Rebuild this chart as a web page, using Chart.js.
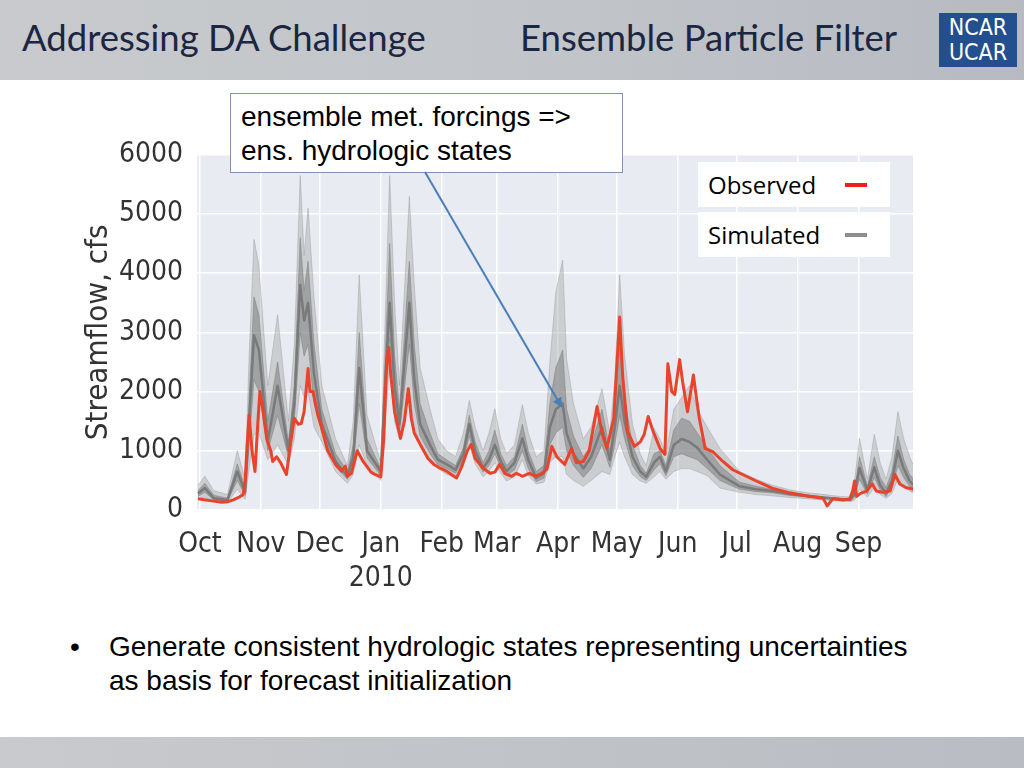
<!DOCTYPE html>
<html>
<head>
<meta charset="utf-8">
<script src="https://cdn.jsdelivr.net/npm/chart.js@4.4.1/dist/chart.umd.min.js"></script>
<style>
  body { margin: 0; background: #fff; }
  #slide { position: relative; width: 1024px; height: 768px; overflow: hidden; background: #fff; }
  #header { position: absolute; left: 0; top: 0; width: 1024px; height: 80px;
            background: linear-gradient(90deg, #c8cacd 0%, #c2c5c9 50%, #b7bac1 100%); }
  .htitle { position: absolute; top: 15px; font-family: Lato, "Open Sans", sans-serif; font-size: 36.5px; color: #1b2642; white-space: nowrap; }
  #logo { position: absolute; left: 939px; top: 13px; width: 78px; height: 54px; background: #234f8e;
          color: #fff; font-family: "DejaVu Sans Condensed", sans-serif; font-size: 23px; line-height: 25px; text-align: center; padding-top: 2px; box-sizing: border-box; }
  #footer { position: absolute; left: 0; top: 737px; width: 1024px; height: 31px; background: linear-gradient(90deg, #c8cacd, #b9bcc2); }
  #chartBox { position: absolute; left: 80px; top: 124px; width: 850px; height: 476px; }
  #note { position: absolute; left: 230px; top: 93px; width: 393px; height: 80px; box-sizing: border-box; background: #fff;
          border: 1.5px solid #7f93b3; font-family: "Liberation Sans", Arial, sans-serif; font-size: 28px; line-height: 34px;
          padding: 6px 0 0 10px; color: #000; z-index: 3; }
  .leg { position: absolute; left: 698px; width: 192px; height: 45px; background: #fff; z-index: 3;
         font-family: "Open Sans", sans-serif; font-size: 24px; line-height: 45px; color: #000; }
  .leg span { position: absolute; left: 10px; }
  .leg i { position: absolute; left: 147px; top: 21px; width: 22px; height: 4px; }
  #arrow { position: absolute; left: 0; top: 0; z-index: 4; }
  .bl { position: absolute; font-family: "Liberation Sans", Arial, sans-serif; font-size: 28px; line-height: 34px; color: #000; white-space: nowrap; }
</style>
</head>
<body>
<div id="slide">
  <div id="header">
    <div class="htitle" style="left:22px">Addressing DA Challenge</div>
    <div class="htitle" style="left:520px">Ensemble Particle Filter</div>
    <div id="logo">NCAR<br>UCAR</div>
  </div>

  <div id="chartBox"><canvas id="flowChart" width="850" height="476"></canvas></div>

  <div id="note">ensemble met. forcings =&gt;<br>ens. hydrologic states</div>
  <div class="leg" style="top:162px"><span>Observed</span><i style="background:#f01e1e"></i></div>
  <div class="leg" style="top:212px"><span>Simulated</span><i style="background:#8e8e8e"></i></div>

  <svg id="arrow" width="1024" height="768">
    <defs>
      <marker id="head" markerWidth="10" markerHeight="10" refX="8" refY="5" orient="auto" markerUnits="userSpaceOnUse">
        <path d="M0,0 L10,5 L0,10 z" fill="#4a7ebb"/>
      </marker>
    </defs>
    <line x1="425" y1="172" x2="561" y2="406" stroke="#4a7ebb" stroke-width="2" marker-end="url(#head)"/>
  </svg>

  <div class="bl" style="left:70px; top:630px">•</div>
  <div class="bl" style="left:109px; top:630px">Generate consistent hydrologic states representing uncertainties<br>as basis for forecast initialization</div>

  <div id="footer"></div>
</div>

<script>
// water year 2010, x = days since 1 Oct 2009
var monthDays = [0, 31, 61, 92, 123, 151, 182, 212, 243, 273, 304, 335];
var monthLabels = ['Oct', 'Nov', 'Dec', ['Jan', '2010'], 'Feb', 'Mar', 'Apr', 'May', 'Jun', 'Jul', 'Aug', 'Sep'];

// observed streamflow (cfs)
var obsDays = [-1, 3, 7, 11, 14, 17, 20, 22, 23, 24, 25, 26.5, 28, 29.5, 30.5, 32, 34, 36, 37, 39, 41, 44, 46, 48, 50, 51.5, 53, 55, 56, 57.5,
    60, 62, 65, 69, 72, 74, 75, 77, 80, 83, 87, 89, 92, 93.5, 95, 96, 97, 99, 102, 104, 106, 107.5, 109, 112, 116, 119, 122, 125.5, 130.5, 133,
    136, 138, 140, 144, 147.5, 150, 152.5, 155, 158.5, 161, 164, 167.5, 170.5, 174, 176.5, 179, 181.5, 185.5, 189, 191.5, 195, 198, 202, 204.5, 207, 210.5,
    213.5, 215, 217.5, 221, 224, 226, 228, 230.5, 234, 236.5, 238, 240, 241.5, 244, 245.5, 248, 251, 252.5, 254, 257, 261, 266, 271, 276,
    283, 291, 300, 309, 317, 319, 322, 327, 330.5, 332, 333, 334, 336, 339, 342, 344, 347, 351, 353.5, 356, 359, 363];
var observed = [190, 170, 150, 130, 140, 170, 220, 260, 500, 1100, 1600, 1000, 650, 1500, 2000, 1700, 1200, 1000, 820, 900, 800, 600, 1100, 1550, 1450, 1460, 1660, 2390, 2000, 2000,
    1600, 1380, 1000, 770, 655, 740, 570, 620, 1000, 820, 640, 600, 560, 1200, 2500, 2750, 2300, 1660, 1210, 1500, 2050, 1550, 1300, 1110, 870, 770, 710, 655, 540, 720,
    1000, 1110, 870, 710, 620, 640, 770, 620, 570, 620, 570, 620, 570, 620, 690, 1075, 900, 770, 1040, 800, 820, 1000, 1750, 1300, 1040, 1550,
    3260, 2280, 1330, 1075, 1150, 1280, 1580, 1330, 1040, 940, 2470, 2000, 1950, 2540, 2170, 1660, 2280, 1900, 1550, 1040, 980, 820, 680, 600,
    490, 370, 290, 235, 200, 70, 190, 170, 185, 320, 490, 230, 280, 320, 440, 320, 300, 320, 600, 440, 380, 350];

// simulated ensemble spread (cfs): max, upper quartile, median, lower quartile, min
var simDays = [-1, 2.5, 7, 14, 19, 23, 25, 27.5, 30, 34.5, 39.5, 45, 48, 51, 53, 55, 58, 62, 69, 75, 78, 81, 85, 92, 94, 96.5, 99, 101.5, 106.5, 109,
    112, 117, 121, 125.5, 130, 134, 137, 140, 144, 147, 150, 153, 156, 160, 164, 167, 171, 175, 178, 181, 184.5, 186.5, 190, 195, 199, 204.5, 208.5, 211, 213.5, 216,
    220, 224, 227, 231, 234, 237, 241, 245, 249, 253, 258, 264.5, 274.5, 283, 291, 300, 309, 318, 325.5, 331, 333, 335.5, 339.5, 343, 346, 349, 352, 355, 358, 361, 363];
var simMax = [420, 570, 330, 260, 1000, 520, 2600, 4570, 4130, 2100, 3300, 1500, 2800, 5650, 4300, 5100, 3600, 2100, 1200, 750, 1500, 3970, 1600, 800, 3000, 5650, 3500, 2100, 5300, 3800,
    2400, 1710, 1200, 1000, 900, 1300, 1850, 1400, 1000, 1300, 1710, 1200, 950, 1100, 1780, 1300, 900, 1000, 2500, 3680, 4220, 2550, 1800, 1200, 1400, 2050, 1300, 2200, 3970, 2600,
    1450, 940, 750, 1380, 1200, 950, 1700, 1900, 2100, 1700, 1400, 1040, 650, 520, 420, 340, 290, 260, 230, 220, 500, 1210, 520, 1280, 800, 520, 900, 1660, 1200, 900, 750];
var simHigh = [330, 450, 250, 200, 780, 380, 1900, 3600, 3300, 1500, 2500, 1150, 2100, 4600, 3700, 4200, 2800, 1700, 950, 650, 1100, 3000, 1200, 700, 2400, 4500, 2600, 1700, 4200, 2800,
    1800, 1300, 950, 850, 750, 1050, 1600, 1150, 800, 1000, 1350, 950, 750, 900, 1450, 1000, 650, 750, 1800, 2400, 2700, 1700, 1250, 900, 1100, 1700, 1000, 1700, 2800, 1900,
    1100, 750, 620, 950, 1000, 750, 1350, 1550, 1500, 1300, 1050, 750, 470, 400, 350, 290, 255, 220, 200, 190, 350, 900, 400, 900, 550, 380, 650, 1250, 850, 600, 520];
var simMed = [280, 370, 200, 170, 650, 300, 1500, 2950, 2700, 1160, 2100, 1000, 1800, 3800, 3200, 3500, 2300, 1450, 820, 570, 900, 2400, 1000, 650, 2000, 3500, 2100, 1450, 3500, 2200,
    1450, 1100, 850, 770, 680, 950, 1450, 1000, 710, 850, 1100, 820, 655, 800, 1210, 850, 540, 620, 1400, 1700, 1800, 1300, 950, 700, 900, 1400, 850, 1400, 2100, 1500,
    900, 650, 560, 800, 900, 650, 1100, 1200, 1150, 1050, 850, 600, 400, 350, 320, 270, 235, 205, 185, 175, 280, 710, 330, 720, 420, 280, 500, 1000, 700, 490, 420];
var simLow = [230, 300, 170, 150, 500, 250, 1100, 2200, 2000, 1000, 1600, 900, 1500, 3000, 2600, 2800, 1800, 1300, 740, 520, 750, 1800, 880, 580, 1700, 2900, 1800, 1300, 2800, 1800,
    1250, 950, 770, 700, 620, 850, 1250, 880, 640, 750, 950, 720, 580, 680, 1000, 700, 480, 540, 1100, 1300, 1400, 1000, 750, 550, 700, 1100, 720, 1100, 1600, 1200,
    750, 560, 500, 680, 780, 580, 900, 950, 900, 850, 700, 500, 350, 310, 290, 245, 215, 190, 170, 160, 220, 520, 270, 550, 340, 230, 380, 750, 550, 400, 350];
var simMin = [180, 220, 140, 120, 350, 180, 700, 1280, 1300, 850, 1100, 760, 1200, 2100, 1900, 2000, 1400, 1150, 650, 450, 600, 1100, 750, 500, 1400, 2500, 1500, 1200, 2000, 1400,
    1100, 870, 700, 600, 550, 750, 1100, 780, 560, 650, 800, 620, 490, 560, 850, 580, 440, 470, 800, 900, 900, 600, 500, 400, 500, 650, 600, 900, 1150, 900,
    600, 490, 450, 560, 650, 520, 650, 700, 700, 650, 580, 370, 300, 260, 240, 210, 190, 165, 150, 140, 170, 350, 220, 380, 260, 200, 280, 520, 400, 320, 280];

var yTicks = [0, 1000, 2000, 3000, 4000, 5000, 6000];

function pts(xs, ys) {
    return xs.map(function(x, i) { return { x: x, y: ys[i] }; });
}

// seaborn-like plot background
var plotBg = {
    id: 'plotBg',
    beforeDraw: function(chart) {
        var a = chart.chartArea, ctx = chart.ctx;
        ctx.save();
        ctx.fillStyle = '#e8ebf1';
        ctx.fillRect(a.left, a.top, a.right - a.left, a.bottom - a.top);
        ctx.restore();
    }
};

var tickFont = { family: 'DejaVu Sans Condensed', size: 28 };
var thinGrey = 'rgba(125,125,125,0.5)';

var flowChart = new Chart(document.getElementById('flowChart').getContext('2d'), {
    type: 'line',
    data: {
        datasets: [
            { data: pts(obsDays, observed), borderColor: '#e9432c', borderWidth: 3, order: 0 },
            { data: pts(simDays, simMed), borderColor: '#7a7a7a', borderWidth: 2.5, order: 1 },
            { data: pts(simDays, simHigh), borderColor: thinGrey, borderWidth: 1, order: 2,
              fill: '+1', backgroundColor: 'rgba(128,128,128,0.55)' },
            { data: pts(simDays, simLow), borderColor: thinGrey, borderWidth: 1, order: 3 },
            { data: pts(simDays, simMax), borderColor: 'rgba(150,150,150,0.4)', borderWidth: 1, order: 4,
              fill: '+1', backgroundColor: 'rgba(150,150,150,0.35)' },
            { data: pts(simDays, simMin), borderColor: 'rgba(150,150,150,0.4)', borderWidth: 1, order: 5 }
        ]
    },
    options: {
        responsive: false,
        animation: false,
        layout: { padding: { top: 16, right: 17, left: 0, bottom: 0 } },
        elements: { point: { radius: 0 }, line: { tension: 0, borderJoinStyle: 'round' } },
        plugins: { legend: { display: false }, tooltip: { enabled: false } },
        scales: {
            x: {
                type: 'linear', min: -1.5, max: 362.7,
                afterBuildTicks: function(scale) {
                    scale.ticks = monthDays.map(function(d) { return { value: d }; });
                },
                afterFit: function(scale) { scale.height = 90; },
                ticks: {
                    autoSkip: false, maxRotation: 0, padding: 18, color: '#333', font: tickFont,
                    callback: function(value) { return monthLabels[monthDays.indexOf(value)]; }
                },
                grid: { color: '#fff', lineWidth: 1.5, drawTicks: false },
                border: { display: false }
            },
            y: {
                min: 0, max: 6000,
                afterBuildTicks: function(scale) {
                    scale.ticks = yTicks.map(function(v) { return { value: v }; });
                },
                afterFit: function(scale) { scale.width = 117; },
                ticks: { padding: 14, color: '#333', font: tickFont,
                         callback: function(value) { return String(value); } },
                grid: { color: '#fff', lineWidth: 1.5, drawTicks: false },
                border: { display: false },
                title: { display: true, text: 'Streamflow, cfs', color: '#333', padding: 0,
                         font: { family: 'DejaVu Sans Condensed', size: 31 } }
            }
        }
    },
    plugins: [plotBg]
});
</script>
</body>
</html>
